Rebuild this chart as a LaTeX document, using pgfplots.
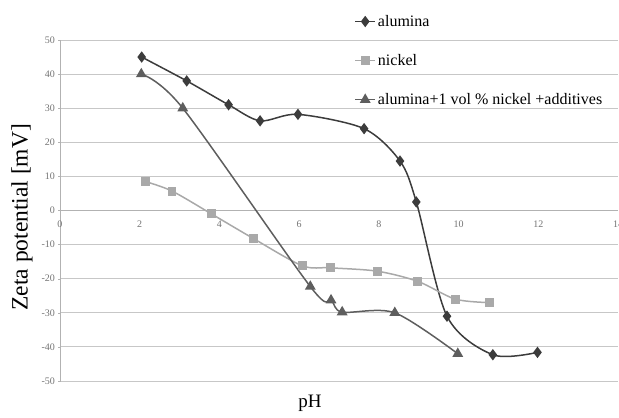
\documentclass[border=0pt]{standalone}
\usepackage{pgfplots}
\pgfplotsset{compat=1.18}
\usepackage{fontspec}
\setmainfont{Liberation Serif}
\definecolor{alu}{HTML}{3C3C3C}
\definecolor{nick}{HTML}{A9A9A9}
\definecolor{mix}{HTML}{5E5E5E}
\begin{document}
\begin{tikzpicture}
\begin{axis}[name=ax,
 scale only axis, width=558pt, height=341pt,
 xmin=0, xmax=14, ymin=-50, ymax=50,
 axis x line=middle, axis y line=left,
 axis line style={-, draw=black!30, line width=0.8pt},
 xtick={0,2,...,14}, ytick={-50,-40,...,50},
 ymajorgrids, grid style={draw=black!22, line width=0.9pt},
 major tick length=3pt,
 x tick style={draw=none},
 y tick style={draw=black!30},
 tick label style={font=\fontsize{10}{12}\selectfont, text=black!55},
 /pgf/number format/assume math mode=true,
 xticklabel style={yshift=-5pt},
 hide obscured x ticks=false, hide obscured y ticks=false,
 xlabel={pH}, ylabel={Zeta potential [mV]},
 xlabel style={at={(axis description cs:0.448,-0.03)}, anchor=north, font=\fontsize{19}{22}\selectfont},
 ylabel style={at={(axis description cs:-0.068,0.48)}, anchor=center, font=\fontsize{23.5}{26}\selectfont},
 legend style={draw=none, fill=none, at={(axis description cs:0.522,1.085)}, anchor=north west,
   font=\fontsize{16}{18}\selectfont, row sep=22.5pt, /tikz/every even column/.append style={column sep=1pt}},
 legend cell align=left,
 legend image code/.code={\draw[mark repeat=2,mark phase=2,#1] plot coordinates {(0pt,0pt)(10pt,0pt)(20pt,0pt)};},
]
\addplot[alu, line width=1.5pt, smooth, mark=diamond*, mark size=4.5pt, mark options={solid}] coordinates {
(2.05,45) (3.18,38) (4.23,31) (5.02,26.3) (5.97,28.2) (7.63,24) (8.53,14.5) (8.94,2.5) (9.71,-31) (10.86,-42.3) (11.98,-41.6)};
\addlegendentry{alumina}
\addplot[nick, line width=1.5pt, smooth, mark=square*, mark size=3.7pt] coordinates {
(2.14,8.5) (2.81,5.7) (3.8,-1) (4.85,-8.2) (6.08,-16.2) (6.78,-16.8) (7.96,-17.8) (8.98,-20.8) (9.92,-26) (10.78,-27)};
\addlegendentry{nickel}
\addplot[mix, line width=1.5pt, smooth, mark=triangle*, mark size=4.8pt] coordinates {
(2.04,40) (3.08,30) (6.28,-22.3) (6.8,-26.3) (7.08,-29.8) (8.4,-30) (9.98,-42)};
\addlegendentry{alumina+1 vol \% nickel +additives}
\end{axis}
\pgfresetboundingbox
\path ([shift={(-60pt,-37pt)}]ax.south west) rectangle ([shift={(1pt,40pt)}]ax.north east);
\end{tikzpicture}
\end{document}
